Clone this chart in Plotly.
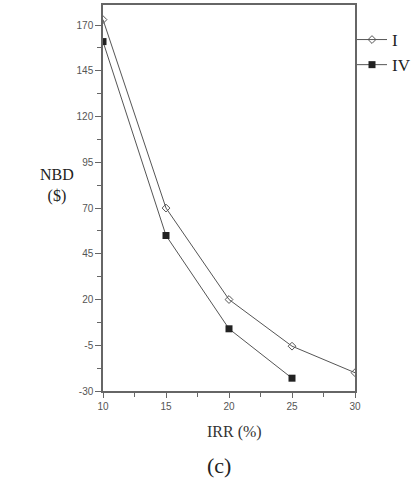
import plotly.graph_objects as go

irr = [10, 15, 20, 25, 30]
nbd_I = [173, 70, 20, -5.5, -20]
irr_IV = [10, 15, 20, 25]
nbd_IV = [161, 55, 4, -23]

y_ticks = [-30, -5, 20, 45, 70, 95, 120, 145, 170]
x_ticks = [10, 15, 20, 25, 30]

line_col = "#555555"
axis_col = "#666666"

fig = go.Figure()
fig.add_trace(go.Scatter(x=irr, y=nbd_I, mode="lines+markers", name="I",
                         line=dict(color=line_col, width=1),
                         marker=dict(symbol="diamond-open", size=6, color=line_col, line=dict(width=1))))
fig.add_trace(go.Scatter(x=irr_IV, y=nbd_IV, mode="lines+markers", name="IV",
                         line=dict(color=line_col, width=1),
                         marker=dict(symbol="square", size=7, color="#222222")))

W, H = 418, 483
L, R, T, B = 103, 5, 5, 92
plot_w = W - L - R
plot_h = H - T - B
dom_right = (355 - L) / plot_w

fig.update_layout(
    width=W, height=H,
    margin=dict(l=L, r=R, t=T, b=B, autoexpand=False),
    plot_bgcolor="white", paper_bgcolor="white",
    showlegend=True,
    legend=dict(x=(352 - L) / plot_w, y=1 - (22 - T) / plot_h, xanchor="left", yanchor="top",
                font=dict(family="Liberation Serif", size=17, color="#222222"),
                itemwidth=30, tracegroupgap=0, bgcolor="rgba(0,0,0,0)"),
    font=dict(family="Liberation Sans", size=10, color="#444444"),
)
fig.update_xaxes(domain=[0, dom_right], range=[10, 30], tickvals=x_ticks, ticks="outside", ticklen=5,
                 tickcolor=axis_col, showline=True, linecolor=axis_col, linewidth=1.5,
                 mirror=True, showgrid=False, zeroline=False,
                 minor=dict(dtick=2.5, ticks="outside", ticklen=4, tickcolor=axis_col),
                 tickfont=dict(size=10, color="#555555"))
fig.update_yaxes(range=[-30, 181], tickvals=y_ticks, ticktext=[str(v) for v in y_ticks],
                 ticks="outside", ticklen=6,
                 tickcolor=axis_col, showline=True, linecolor=axis_col, linewidth=1.5,
                 mirror=True, showgrid=False, zeroline=False,
                 minor=dict(tickvals=[-17.5, 7.5, 32.5, 57.5, 82.5, 107.5, 132.5, 157.5], ticks="outside", ticklen=4, tickcolor=axis_col),
                 tickfont=dict(size=10, color="#555555"))

def px_x(x):
    return (x - L) / plot_w

def px_y(y):
    return (H - B - y) / plot_h

fig.add_annotation(text="NBD<br>($)", xref="paper", yref="paper", x=px_x(38), y=px_y(185),
                   showarrow=False, align="center", yanchor="middle",
                   font=dict(family="Liberation Serif", size=16, color="#222222"))
fig.add_annotation(text="IRR (%)", xref="paper", yref="paper", x=px_x(234), y=px_y(432),
                   showarrow=False, yanchor="middle",
                   font=dict(family="Liberation Serif", size=16, color="#333333"))
fig.add_annotation(text="(c)", xref="paper", yref="paper", x=px_x(219), y=px_y(465),
                   showarrow=False, yanchor="middle",
                   font=dict(family="Liberation Serif", size=22, color="#222222"))

fig.write_html("out.html", post_script="document.body.style.margin='0';",
               config={"displayModeBar": False})
